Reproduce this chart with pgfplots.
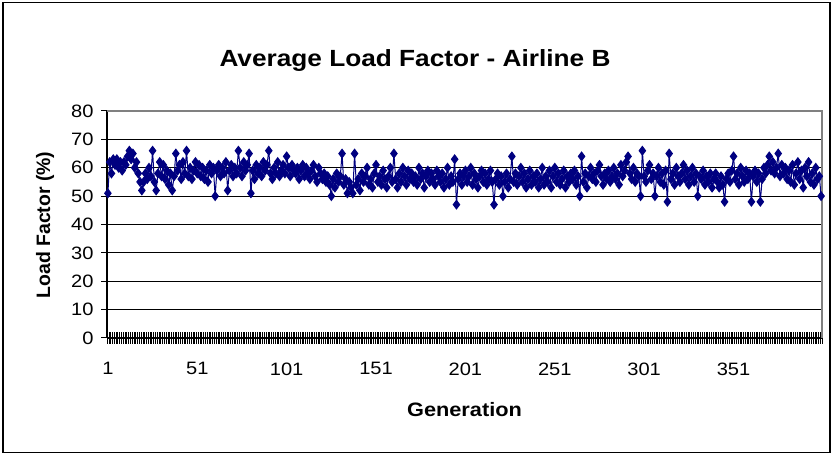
\documentclass[border=0pt]{standalone}
\usepackage{pgfplots}
\pgfplotsset{compat=1.18}
\usepackage{pgfplotstable}
\usepackage{fontspec}
\setmainfont{Liberation Sans}[FakeStretch=1.12]
\newfontfamily\vertfont{Liberation Sans}
\definecolor{navy}{RGB}{0,0,128}
\definecolor{plotframe}{RGB}{128,128,128}

% average load factor (%) per generation, generations 1..400
\pgfplotstableread[row sep=\\]{
lf\\
51\\ 62\\ 58\\ 63\\ 61\\ 63\\ 60\\ 62\\ 59\\ 62\\ 61\\ 64\\ 66\\ 63\\ 65\\ 60\\ 62\\ 58\\ 55\\ 52\\
55\\ 58\\ 56\\ 60\\ 57\\ 66\\ 55\\ 52\\ 58\\ 62\\ 57\\ 61\\ 56\\ 59\\ 54\\ 58\\ 52\\ 57\\ 65\\ 59\\
61\\ 56\\ 62\\ 58\\ 66\\ 57\\ 60\\ 56\\ 59\\ 62\\ 58\\ 61\\ 57\\ 60\\ 56\\ 59\\ 55\\ 61\\ 58\\ 60\\
50\\ 59\\ 61\\ 57\\ 60\\ 58\\ 62\\ 52\\ 59\\ 61\\ 57\\ 60\\ 58\\ 66\\ 60\\ 57\\ 62\\ 59\\ 61\\ 65\\
51\\ 59\\ 56\\ 61\\ 58\\ 60\\ 57\\ 62\\ 59\\ 61\\ 66\\ 58\\ 56\\ 60\\ 58\\ 62\\ 57\\ 59\\ 61\\ 58\\
64\\ 60\\ 57\\ 61\\ 59\\ 58\\ 60\\ 56\\ 59\\ 61\\ 57\\ 60\\ 58\\ 56\\ 59\\ 61\\ 57\\ 55\\ 60\\ 58\\
56\\ 58\\ 55\\ 57\\ 54\\ 50\\ 56\\ 53\\ 58\\ 55\\ 57\\ 65\\ 54\\ 56\\ 51\\ 55\\ 53\\ 51\\ 65\\ 54\\
56\\ 52\\ 58\\ 55\\ 57\\ 60\\ 54\\ 56\\ 53\\ 58\\ 61\\ 55\\ 57\\ 54\\ 59\\ 56\\ 53\\ 57\\ 60\\ 55\\
65\\ 56\\ 53\\ 58\\ 55\\ 60\\ 57\\ 54\\ 59\\ 56\\ 58\\ 55\\ 57\\ 54\\ 60\\ 56\\ 58\\ 53\\ 57\\ 59\\
55\\ 58\\ 56\\ 54\\ 59\\ 57\\ 55\\ 58\\ 53\\ 56\\ 60\\ 54\\ 57\\ 55\\ 63\\ 47\\ 56\\ 58\\ 54\\ 57\\
59\\ 55\\ 57\\ 60\\ 54\\ 58\\ 56\\ 53\\ 57\\ 59\\ 55\\ 58\\ 54\\ 56\\ 59\\ 55\\ 47\\ 56\\ 58\\ 54\\
57\\ 50\\ 55\\ 58\\ 53\\ 56\\ 64\\ 55\\ 58\\ 54\\ 57\\ 60\\ 55\\ 58\\ 53\\ 56\\ 59\\ 54\\ 57\\ 55\\
58\\ 53\\ 56\\ 60\\ 54\\ 57\\ 55\\ 59\\ 53\\ 57\\ 60\\ 55\\ 58\\ 54\\ 56\\ 59\\ 53\\ 57\\ 55\\ 58\\
56\\ 59\\ 54\\ 57\\ 50\\ 64\\ 55\\ 58\\ 53\\ 57\\ 60\\ 56\\ 58\\ 55\\ 59\\ 61\\ 57\\ 54\\ 58\\ 56\\
59\\ 55\\ 57\\ 60\\ 56\\ 58\\ 54\\ 61\\ 57\\ 59\\ 62\\ 64\\ 58\\ 56\\ 60\\ 55\\ 58\\ 57\\ 50\\ 66\\
57\\ 55\\ 59\\ 61\\ 56\\ 58\\ 50\\ 57\\ 60\\ 55\\ 58\\ 54\\ 59\\ 48\\ 65\\ 56\\ 58\\ 54\\ 60\\ 57\\
55\\ 58\\ 61\\ 56\\ 59\\ 54\\ 57\\ 60\\ 55\\ 58\\ 50\\ 57\\ 56\\ 59\\ 54\\ 57\\ 55\\ 58\\ 53\\ 56\\
58\\ 55\\ 53\\ 57\\ 54\\ 48\\ 56\\ 58\\ 55\\ 59\\ 64\\ 56\\ 58\\ 54\\ 60\\ 57\\ 55\\ 59\\ 56\\ 58\\
48\\ 57\\ 59\\ 55\\ 58\\ 48\\ 56\\ 60\\ 58\\ 61\\ 64\\ 59\\ 62\\ 58\\ 60\\ 65\\ 57\\ 61\\ 58\\ 60\\
56\\ 59\\ 55\\ 61\\ 54\\ 58\\ 62\\ 56\\ 59\\ 53\\ 60\\ 57\\ 62\\ 55\\ 58\\ 54\\ 60\\ 56\\ 57\\ 50\\
}\loadfactor

\begin{document}
\begin{tikzpicture}[x=1bp,y=1bp]
  % chart area with its outer frame
  \path (0,0) rectangle (832,455);
  \draw[black, line width=1.2bp] (3,2.5) rectangle (830,452.5);

  \begin{axis}[
    at={(107bp,117bp)}, anchor=south west,
    scale only axis, width=715bp, height=227bp,
    xmin=0.5, xmax=400.5, ymin=0, ymax=80,
    ytick={0,10,...,80},
    xtick={1,51,...,351},
    minor xtick={0.5,1.5,...,400.5},
    tick align=center,
    major tick length=12bp, minor tick length=12bp,
    major x tick style={draw=none},
    minor x tick style={black, line width=0.5bp},
    ytick style={black, line width=1bp},
    ymajorgrids,
    major grid style={black, line width=0.9bp},
    axis x line*=bottom, axis y line*=left,
    axis line style={black, line width=1.1bp},
    tick label style={font=\fontsize{18}{20}\selectfont},
    xticklabel style={yshift=-15bp},
    yticklabel style={xshift=-4bp},
    /pgf/number format/assume math mode=true,
    clip=false,
  ]
    \addplot[navy, line width=1bp, mark=diamond*, mark size=4.3bp,
             mark options={solid, fill=navy, draw=navy}]
      table[x expr=\coordindex+1, y=lf] {\loadfactor};
    % plot-area border on the top and right
    \draw[plotframe, line width=1.6bp]
      (rel axis cs:0,1) -- (rel axis cs:1,1) -- (rel axis cs:1,0);
  \end{axis}

  \node[font=\bfseries\fontsize{23.5}{26}\selectfont] at (415,394) {Average Load Factor - Airline B};
  \node[font=\bfseries\fontsize{19.5}{22}\selectfont] at (464.5,45) {Generation};
  \node[font=\vertfont\bfseries\fontsize{19.5}{22}\selectfont, rotate=90] at (45,230) {Load Factor (\%)};
\end{tikzpicture}
\end{document}
